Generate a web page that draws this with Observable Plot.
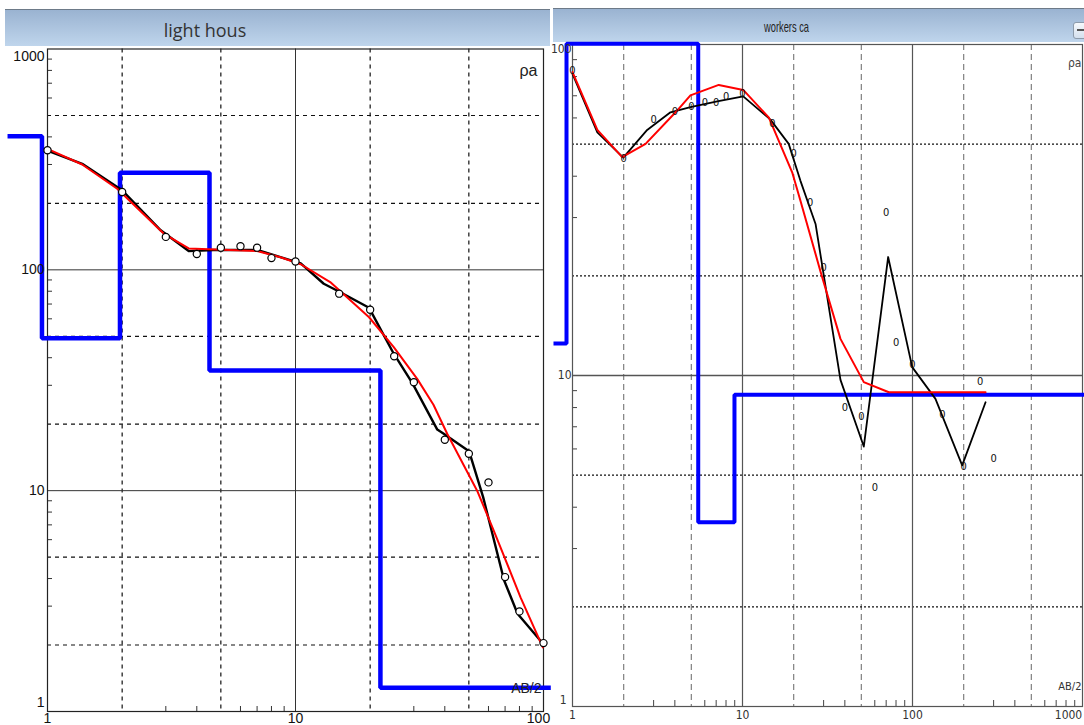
<!DOCTYPE html>
<html>
<head>
<meta charset="utf-8">
<script src="https://cdn.jsdelivr.net/npm/d3@7"></script>
<script src="https://cdn.jsdelivr.net/npm/@observablehq/plot@0.6"></script>
<style>
  html, body { margin: 0; padding: 0; background: #fff; }
  body { width: 1084px; height: 725px; position: relative; overflow: hidden; }
  .bar { position: absolute; background: linear-gradient(#9ab3d1, #bfd5ec); border-top: 1px solid #6d7a88; }
  .bar span { position: absolute; white-space: nowrap; }
  #leftTitle { left: 5px; top: 9px; width: 545px; height: 36px; }
  #leftTitle span { left: 0; width: 400px; text-align: center; top: 8px; font: 18px "Open Sans", "Noto Sans", sans-serif; color: #333; }
  #rightTitle { left: 553px; top: 8px; width: 531px; height: 33px; }
  #rightTitle span { left: 211px; top: 9px; font: 15px "Liberation Sans", Arial, sans-serif; color: #222; transform: scaleX(0.62); transform-origin: left center; }
  #btn { position: absolute; left: 1073px; top: 22px; width: 14px; height: 15px; border: 1px solid #8d9bab; border-radius: 3px; background: linear-gradient(#f6f9fc, #d4e0ee); }
  #btn::after { content: ""; position: absolute; left: 3px; top: 6px; width: 8px; height: 2px; background: #555; }
  #leftChart { position: absolute; left: 0; top: 44px; }
  #rightChart { position: absolute; left: 550px; top: 42px; }
  svg { overflow: visible; }
</style>
</head>
<body>
<div class="bar" id="leftTitle"><span id="leftTitleText"></span></div>
<div class="bar" id="rightTitle"><span id="rightTitleText"></span></div>
<div id="btn"></div>
<div id="leftChart"></div>
<div id="rightChart"></div>
<script>
// ---------- texts ----------
const leftTitle = "light hous";
const rightTitle = "workers ca";
const rhoLabel = "ρa";
const abLabel = "AB/2";
const markerGlyph = "0";

// ---------- left panel: "light hous" ----------
const leftObsX = [1, 2, 3, 4, 5, 6, 7, 8, 10, 15, 20, 25, 30, 40, 50, 60, 70, 80, 100];
const leftObsY = [348, 225, 141, 118, 126, 128, 126, 113, 109, 78, 66, 40.6, 31, 17, 14.7, 10.9, 4.06, 2.84, 2.04];

const leftCurveX = [1, 1.38, 2.0, 2.86, 3.71, 4.67, 7.0, 10.5, 13, 14.9, 19.8, 24.9, 29.6, 37.3, 39.6, 50.1, 57.1, 69.4, 78.6, 99.4];
const leftCurveY = [347, 302, 229, 151, 121.6, 123, 123, 107, 86.5, 80, 67.3, 41.7, 30.7, 18.9, 18.1, 15.1, 9.35, 3.92, 2.77, 2.03];

const leftModelX = [1, 1.38, 1.91, 2.94, 3.71, 7.0, 8.7, 10.5, 13.8, 19.8, 24.9, 31, 36, 40.9, 54, 63, 80.8, 99.4];
const leftModelY = [353, 300, 233, 146, 125, 121.6, 114, 106, 88, 61, 44.7, 32, 24.5, 18.1, 10, 6.6, 3.29, 1.95];

const leftLayerBounds = [0.69, 0.95, 1.96, 4.5, 22, 107];
const leftLayerRho = [403, 49, 275, 35, 1.28];

const leftXLabels = [1, 10];
const leftXLabelsEnd = [100];
const leftYLabels = [10, 100];
const leftYLabelTop = [1000];
const leftYLabelBottom = [1];
const leftSolidX = [10];
const leftSolidY = [10, 100];
const leftDashX = [2, 5, 20, 50];
const leftDashY = [2, 5, 20, 50, 200, 500];
const leftMinorX = [3, 4, 6, 7, 8, 9, 30, 40, 60, 70, 80, 90];
const leftMinorY = [3, 4, 6, 7, 8, 9, 30, 40, 60, 70, 80, 90, 300, 400, 600, 700, 800, 900];

// ---------- right panel: "workers ca" ----------
const rightObsX = [1, 2, 3, 4, 5, 6, 7, 8, 10, 15, 20, 25, 30, 40, 50, 60, 70, 80, 100, 150, 200, 250, 300];
const rightObsY = [83.4, 45.2, 59.3, 62.8, 65.2, 66.6, 66.9, 69.8, 71, 57.8, 46.8, 33.4, 21.2, 8.0, 7.5, 4.6, 31.1, 12.6, 10.8, 7.6, 5.3, 9.6, 5.6];

const rightCurveX = [1, 1.4, 1.99, 2.75, 3.77, 4.94, 7.1, 10.1, 14.6, 18.7, 21.9, 26.9, 37.7, 51.7, 71.9, 99.6, 136.5, 196, 269];
const rightCurveY = [81.5, 54.3, 45.5, 55.2, 62.4, 64.7, 67.3, 69.7, 59.3, 50.1, 38.8, 28.7, 9.7, 6.1, 22.8, 10.6, 8.5, 5.35, 8.3];

const rightModelX = [1, 1.4, 1.96, 2.69, 4.04, 4.94, 7.25, 10.1, 14.3, 19.6, 21.9, 28.7, 37.7, 51.7, 72.6, 269];
const rightModelY = [82.5, 55.2, 45.7, 50.1, 62.4, 70.2, 75.5, 72.9, 60.1, 41.1, 33.8, 20.7, 12.9, 9.55, 8.9, 8.9];

const rightLayerBounds = [0.773, 0.922, 5.49, 8.97, 1027];
const rightLayerRho = [12.5, 100.5, 3.6, 8.75];

const rightXLabels = [1, 10, 100];
const rightXLabelsEnd = [1000];
const rightYLabels = [10];
const rightYLabelTop = [100];
const rightYLabelBottom = [1];
const rightSolidX = [10, 100];
const rightSolidY = [10];
const rightDashX = [2, 5, 20, 50, 200, 500];
const rightDotY = [2, 5, 20, 50];
const rightMinorX = [3, 4, 6, 7, 8, 9, 30, 40, 60, 70, 80, 90, 300, 400, 600, 700, 800, 900];
const rightMinorY = [3, 4, 6, 7, 8, 9, 30, 40, 60, 70, 80, 90];

// ---------- helpers ----------
const zip = (xs, ys) => xs.map((x, i) => ({x, y: ys[i]}));
const steps = (bounds, rho) => bounds.map((b, i) => ({x: b, y: rho[Math.min(i, rho.length - 1)]}));
const fmt = d => String(d);

document.getElementById("leftTitleText").textContent = leftTitle;
document.getElementById("rightTitleText").textContent = rightTitle;

// ---------- left chart ----------
{
  const width = 550, height = 681;
  const mL = 47, mR = 7, mT = 4.5, mB = 14;
  const fW = width - mL - mR, fH = height - mT - mB;
  const font = "'Liberation Sans', Arial, sans-serif";
  const ax = {tickSize: 0, tickFormat: fmt, fontSize: 14, label: null};
  const chart = Plot.plot({
    width, height,
    marginLeft: mL, marginRight: mR, marginTop: mT, marginBottom: mB,
    x: {type: "log", domain: [1, 100]},
    y: {type: "log", domain: [1, 1000]},
    axis: null,
    style: {fontFamily: font, fontSize: "14px", color: "#111", background: "transparent"},
    marks: [
      Plot.ruleX(leftDashX, {stroke: "#111", strokeWidth: 1.2, strokeDasharray: "4,4"}),
      Plot.ruleY(leftDashY, {stroke: "#111", strokeWidth: 1.2, strokeDasharray: "4,4"}),
      Plot.ruleX(leftSolidX, {stroke: "#333", strokeWidth: 1}),
      Plot.ruleY(leftSolidY, {stroke: "#333", strokeWidth: 1}),
      Plot.ruleX(leftMinorX, {stroke: "#333", insetTop: fH - 5}),
      Plot.ruleY(leftMinorY, {stroke: "#333", insetRight: fW - 5}),
      Plot.frame({stroke: "#222", strokeWidth: 1.2}),
      Plot.line(steps(leftLayerBounds, leftLayerRho), {x: "x", y: "y", curve: "step-after", stroke: "#0000ff", strokeWidth: 4.5, strokeLinejoin: "miter", strokeLinecap: "butt"}),
      Plot.line(zip(leftCurveX, leftCurveY), {x: "x", y: "y", stroke: "#000", strokeWidth: 2.4}),
      Plot.line(zip(leftModelX, leftModelY), {x: "x", y: "y", stroke: "#ff0000", strokeWidth: 2}),
      Plot.dot(zip(leftObsX, leftObsY), {x: "x", y: "y", r: 3.6, stroke: "#000", fill: "#fff", strokeWidth: 1.2}),
      Plot.axisX({...ax, ticks: leftXLabels, tickPadding: 2}),
      Plot.axisX({...ax, ticks: leftXLabelsEnd, tickPadding: 2, dx: -5}),
      Plot.axisY({...ax, ticks: leftYLabels, tickPadding: 3}),
      Plot.axisY({...ax, ticks: leftYLabelTop, tickPadding: 3, dy: 8}),
      Plot.axisY({...ax, ticks: leftYLabelBottom, tickPadding: 3, dy: -9}),
      Plot.text([rhoLabel], {text: d => d, frameAnchor: "top-right", textAnchor: "end", dx: -6, dy: 16, fontSize: 16, fill: "#222"}),
      Plot.text([abLabel], {text: d => d, frameAnchor: "bottom-right", textAnchor: "end", dx: -2, dy: -19, fontSize: 14, fill: "#222"})
    ]
  });
  document.getElementById("leftChart").append(chart);
}

// ---------- right chart ----------
{
  const width = 534, height = 683;
  const mL = 22, mR = 2, mT = 2, mB = 19;
  const fW = width - mL - mR, fH = height - mT - mB;
  const font = "'Liberation Sans Narrow', 'DejaVu Sans Condensed', 'Liberation Sans', Arial, sans-serif";
  const ax = {tickSize: 0, tickFormat: fmt, fontSize: 12, label: null};
  const chart = Plot.plot({
    width, height,
    marginLeft: mL, marginRight: mR, marginTop: mT, marginBottom: mB,
    x: {type: "log", domain: [1, 1000]},
    y: {type: "log", domain: [1, 100]},
    axis: null,
    style: {fontFamily: font, fontSize: "12px", color: "#333", background: "transparent", fontStretch: "condensed"},
    marks: [
      Plot.ruleX(rightDashX, {stroke: "#808080", strokeWidth: 1.2, strokeDasharray: "6,4"}),
      Plot.ruleY(rightDotY, {stroke: "#111", strokeWidth: 1.2, strokeDasharray: "2,2"}),
      Plot.ruleX(rightSolidX, {stroke: "#555", strokeWidth: 1.2}),
      Plot.ruleY(rightSolidY, {stroke: "#555", strokeWidth: 1.6}),
      Plot.ruleX(rightMinorX, {stroke: "#444", insetTop: fH - 6}),
      Plot.ruleY(rightMinorY, {stroke: "#444", insetRight: fW - 5}),
      Plot.frame({stroke: "#555", strokeWidth: 1.2}),
      Plot.line(steps(rightLayerBounds, rightLayerRho), {x: "x", y: "y", curve: "step-after", stroke: "#0000ff", strokeWidth: 4, strokeLinejoin: "miter", strokeLinecap: "butt"}),
      Plot.line(zip(rightCurveX, rightCurveY), {x: "x", y: "y", stroke: "#000", strokeWidth: 1.8}),
      Plot.line(zip(rightModelX, rightModelY), {x: "x", y: "y", stroke: "#ff0000", strokeWidth: 2}),
      Plot.text(zip(rightObsX, rightObsY), {x: "x", y: "y", text: () => markerGlyph, fontSize: 11, fill: "#111"}),
      Plot.axisX({...ax, ticks: rightXLabels, tickPadding: 4}),
      Plot.axisX({...ax, ticks: rightXLabelsEnd, tickPadding: 4, dx: -14}),
      Plot.axisY({...ax, ticks: rightYLabels, tickPadding: 1}),
      Plot.axisY({...ax, ticks: rightYLabelTop, tickPadding: 1, dy: 5}),
      Plot.axisY({...ax, ticks: rightYLabelBottom, tickPadding: 6, dy: -6}),
      Plot.text([rhoLabel], {text: d => d, frameAnchor: "top-right", textAnchor: "end", dx: -1, dy: 14, fontSize: 12, fill: "#444"}),
      Plot.text([abLabel], {text: d => d, frameAnchor: "bottom-right", textAnchor: "end", dx: -1, dy: -17, fontSize: 11, fill: "#333"})
    ]
  });
  document.getElementById("rightChart").append(chart);
}
</script>
</body>
</html>
